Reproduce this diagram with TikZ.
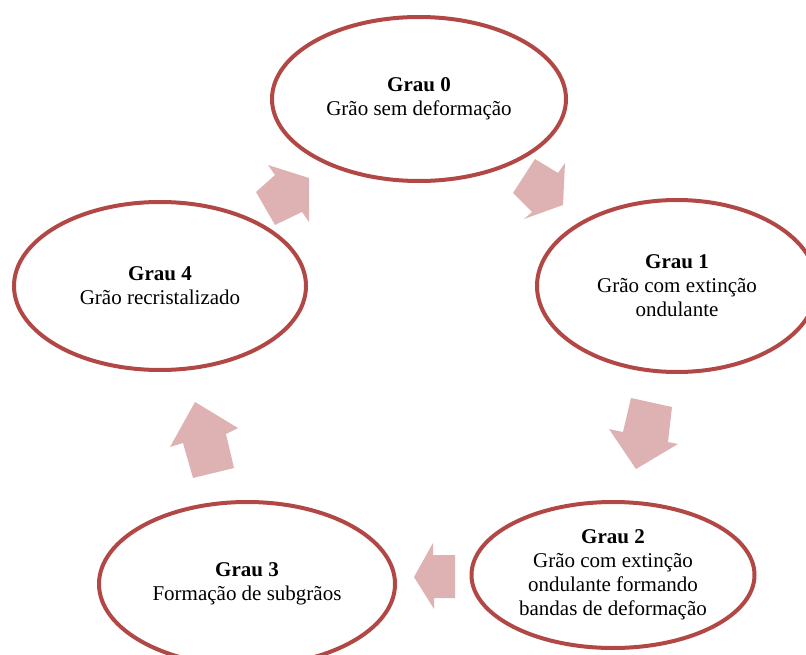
\documentclass[tikz,border=0pt]{standalone}
\usepackage{fontspec}
\setmainfont{Liberation Serif}
\usetikzlibrary{shapes.geometric}
\definecolor{ringred}{RGB}{178,72,70}
\definecolor{arrowpink}{RGB}{222,178,178}
\begin{document}
\begin{tikzpicture}[x=1pt,y=-1pt,
  stage/.style={ellipse,draw=ringred,line width=4pt,fill=white,inner sep=0pt,
    align=center,font=\fontsize{21}{24}\selectfont},
  blockarrow/.style={fill=arrowpink,draw=none}]
\useasboundingbox (0,0) rectangle (806,655);
\clip (0,0) rectangle (806,655);
% arrows
\fill[blockarrow] (535,159) -- (558,173) -- (565,163) -- (563,205) -- (524,219) -- (532,212) -- (513,193) -- cycle;
\fill[blockarrow] (631,398) -- (672,407) -- (668,442) -- (678,444) -- (636,469) -- (609,429) -- (623,432) -- cycle;
\fill[blockarrow] (455,555) -- (455,598) -- (434,598) -- (434,609) -- (414,577) -- (433,543) -- (433,555) -- cycle;
\fill[blockarrow] (193,478) -- (234,468) -- (226,434) -- (238,428) -- (195,402) -- (170,447) -- (183,443) -- cycle;
\fill[blockarrow] (256,192) -- (275,225) -- (302,212) -- (309,222) -- (309,178) -- (268,165) -- (275,175) -- cycle;
% stages
\node[stage,minimum width=294pt,minimum height=164pt] (g0) at (419,99)
  {\textbf{Grau 0}\\Grão sem deformação};
\node[stage,minimum width=280pt,minimum height=172pt] (g1) at (677,286)
  {\textbf{Grau 1}\\Grão com extinção\\ondulante};
\node[stage,minimum width=283pt,minimum height=146pt] (g2) at (613,575)
  {\textbf{Grau 2}\\Grão com extinção\\ondulante formando\\bandas de deformação};
\node[stage,minimum width=296pt,minimum height=164pt] (g3) at (247,584)
  {\textbf{Grau 3}\\Formação de subgrãos};
\node[stage,minimum width=292pt,minimum height=168pt] (g4) at (160,286)
  {\textbf{Grau 4}\\Grão recristalizado};
\end{tikzpicture}
\end{document}
